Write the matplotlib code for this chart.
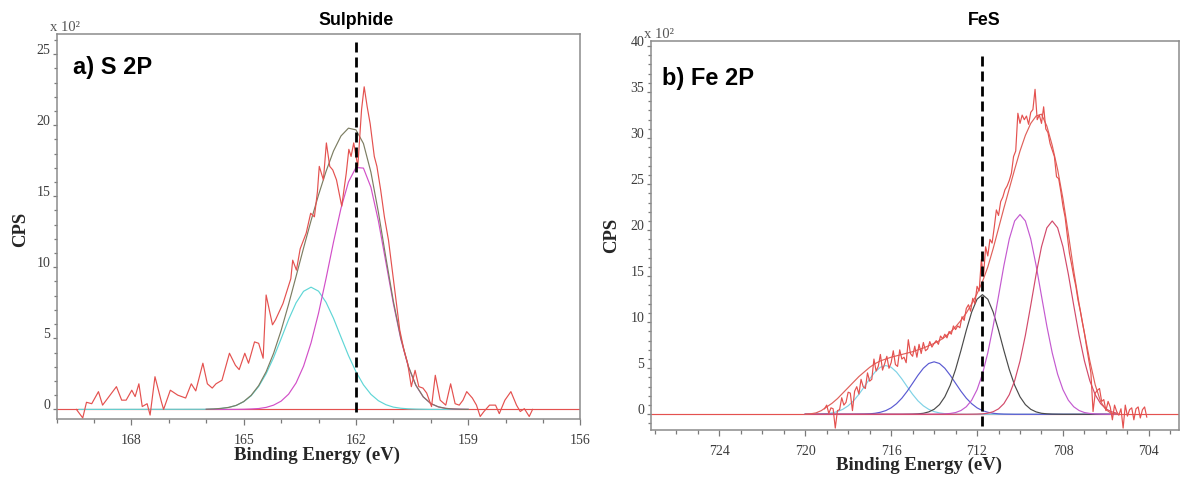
import matplotlib
matplotlib.use("Agg")
import numpy as np
import matplotlib.pyplot as plt
from matplotlib.ticker import MultipleLocator

plt.rcParams['font.family'] = ['Liberation Serif', 'DejaVu Serif']

# ---------------- a) S 2P data ----------------
s2p_raw_x = [169.47, 169.3, 169.2, 169.06, 168.88, 168.77, 168.4, 168.26, 168.14, 167.99, 167.9, 167.8,
             167.71, 167.58, 167.5, 167.37, 167.2, 167.14, 166.96, 166.76, 166.55, 166.4, 166.28, 166.09,
             165.97, 165.84, 165.74, 165.58, 165.38, 165.22, 165.12, 164.97, 164.87, 164.71, 164.6, 164.48,
             164.4, 164.23, 164.15, 163.95, 163.74, 163.69, 163.59, 163.49, 163.33, 163.21, 163.11, 163.03,
             162.98, 162.87, 162.79, 162.7, 162.62, 162.52, 162.38, 162.26, 162.19, 162.13, 162.06, 161.95,
             161.85, 161.78, 161.7, 161.62, 161.51, 161.44, 161.34, 161.24, 161.13, 161.03, 160.93, 160.83,
             160.72, 160.62, 160.52, 160.42, 160.32, 160.21, 160.11, 159.98, 159.88, 159.75, 159.6, 159.47,
             159.35, 159.24, 159.14, 159.04, 158.89, 158.78, 158.68, 158.58, 158.43, 158.27, 158.17, 158.02,
             157.86, 157.71, 157.61, 157.5, 157.37, 157.28]
s2p_raw_y = [0.0, -0.6, 0.5, 0.4, 1.25, 0.3, 1.6, 0.65, 0.65, 1.35, 0.9, 1.8,
             0.2, 0.4, -0.4, 2.3, 0.55, 0.0, 1.35, 1.0, 0.8, 1.8, 1.3, 3.25,
             1.8, 1.5, 1.8, 2.05, 3.95, 3.1, 2.8, 3.95, 3.25, 4.75, 4.65, 3.6,
             8.05, 5.95, 6.3, 7.45, 9.2, 10.5, 9.8, 11.3, 12.4, 13.8, 13.55, 15.3,
             17.1, 16.15, 18.75, 17.1, 16.85, 16.15, 14.3, 16.6, 18.3, 17.8, 18.75, 17.1,
             21.1, 22.7, 21.3, 20.1, 17.8, 17.1, 15.45, 13.55, 11.9, 9.8, 7.7, 5.6,
             4.2, 3.25, 1.6, 2.75, 1.6, 1.5, 1.15, 0.2, 2.4, 0.65, 0.3, 1.8,
             0.4, 0.3, 0.65, 1.25, 0.8, 0.3, -0.5, -0.15, 0.3, 0.3, -0.3, 0.65,
             1.25, 0.3, -0.15, 0.05, -0.5, 0.0]

# fitted curves sampled every 0.2 eV from 166.0 down to 159.0
s2p_fit_x = np.linspace(166.0, 159.0, 36)
s2p_cyan = [0.01, 0.03, 0.07, 0.14, 0.28, 0.54, 0.96, 1.61, 2.51, 3.65, 4.97, 6.32, 7.50, 8.31, 8.60,
            8.32, 7.54, 6.41, 5.09, 3.79, 2.65, 1.73, 1.06, 0.61, 0.33, 0.16, 0.08, 0.04, 0.02, 0.01,
            0.0, 0.0, 0.0, 0.0, 0.0, 0.0]
s2p_cyan_start = 169.4
s2p_magenta = [0.0, 0.0, 0.0, 0.0, 0.0, 0.01, 0.03, 0.06, 0.14, 0.30, 0.58, 1.07, 1.86, 3.04, 4.68,
               6.77, 9.20, 11.77, 14.15, 16.00, 17.02, 16.98, 15.63, 13.26, 10.35, 7.44, 4.93, 3.00,
               1.69, 0.87, 0.41, 0.18, 0.07, 0.03, 0.01, 0.0]
s2p_envelope = [0.01, 0.03, 0.07, 0.14, 0.28, 0.55, 0.99, 1.67, 2.65, 3.95, 5.55, 7.39, 9.36, 11.35,
                13.28, 15.09, 16.74, 18.18, 19.24, 19.79, 19.67, 18.71, 16.69, 13.87, 10.68, 7.60, 5.01,
                3.04, 1.71, 0.88, 0.41, 0.18, 0.07, 0.03, 0.01, 0.0]
s2p_marker_x = 162.0
s2p_marker_y = (-0.2, 26.0)

# ---------------- b) Fe 2P data ----------------
fe_raw_start = 719.1
fe_raw_y = [0.6, 1.0, 0.1, 0.7, 0.6, -1.5, 0.4, 0.5, 1.8, 1.0,
            1.3, 2.4, 2.3, 0.4, 2.5, 3.0, 2.2, 3.8, 3.0, 2.8,
            4.5, 3.6, 3.8, 6.0, 4.7, 5.2, 6.5, 4.8, 5.5, 6.3,
            5.0, 5.6, 6.9, 5.4, 5.2, 7.0, 6.0, 6.2, 5.6, 8.1,
            6.6, 6.3, 7.4, 6.2, 7.6, 6.6, 7.8, 6.9, 7.1, 7.9,
            7.3, 7.7, 8.0, 7.6, 8.5, 8.2, 8.7, 8.3, 9.0, 8.7,
            9.6, 9.2, 9.6, 9.4, 10.6, 10.2, 11.5, 11.9, 11.2, 12.6,
            12.0, 13.9, 13.4, 16.8, 15.0, 18.2, 17.2, 19.0, 18.6, 20.3,
            22.2, 21.6, 23.1, 23.6, 24.4, 24.8, 25.4, 26.2, 28.0, 28.6,
            32.7, 31.6, 32.5, 32.0, 32.4, 31.5, 32.8, 33.1, 35.3, 32.0,
            32.5, 31.6, 33.4, 31.0, 30.6, 29.4, 28.7, 28.0, 25.8, 25.6,
            24.2, 22.6, 21.4, 19.4, 17.5, 16.3, 15.0, 13.9, 12.4, 11.3,
            10.0, 8.8, 7.3, 5.9, 4.5, 0.3, 2.3, 2.6, 2.8, 1.4,
            1.6, 0.4, 1.4, 0.8, -0.6, 1.0, 0.3, -0.1, 0.6, -1.5,
            1.0, -0.2, 0.5, 0.7, -0.6, 0.6, 0.8, -0.4, 0.5, 0.8,
            -0.3]
fe_raw_step = 0.1

# fitted curves sampled every 0.25 eV from 720.0 down to 705.5
fe_fit_x = np.linspace(720.0, 705.5, 59)
fe_cyan = [0.0, 0.01, 0.01, 0.03, 0.07, 0.15, 0.29, 0.54, 0.92, 1.46, 2.17, 2.99, 3.84, 4.59, 5.11,
           5.30, 5.11, 4.59, 3.84, 2.99, 2.17, 1.46, 0.92, 0.54, 0.29, 0.15, 0.07, 0.03, 0.01, 0.01]
fe_cyan += [0.0] * 29
fe_blue = [0.0] * 10 + [0.01, 0.02, 0.05, 0.11, 0.22, 0.40, 0.70, 1.15, 1.75, 2.51, 3.37, 4.24, 5.00,
                        5.52, 5.70, 5.52, 5.00, 4.24, 3.37, 2.51, 1.75, 1.15, 0.70, 0.40, 0.22, 0.11,
                        0.05, 0.02, 0.01] + [0.0] * 20
fe_black = [0.0] * 19 + [0.01, 0.02, 0.05, 0.11, 0.26, 0.54, 1.05, 1.90, 3.16, 4.87, 6.93, 9.13, 11.11,
                         12.50, 13.00, 12.50, 11.11, 9.13, 6.93, 4.87, 3.16, 1.90, 1.05, 0.54, 0.26,
                         0.11, 0.05, 0.02, 0.01] + [0.0] * 11
fe_magenta = [0.0] * 24 + [0.01, 0.02, 0.04, 0.09, 0.19, 0.41, 0.82, 1.53, 2.67, 4.36, 6.67, 9.57, 12.85,
                           16.16, 19.04, 21.00, 21.70, 21.00, 19.04, 16.16, 12.85, 9.57, 6.67, 4.36,
                           2.67, 1.53, 0.82, 0.41, 0.19, 0.09, 0.04, 0.02, 0.01, 0.0, 0.0]
fe_red = [0.0] * 31 + [0.01, 0.02, 0.05, 0.12, 0.28, 0.59, 1.16, 2.13, 3.64, 5.79, 8.58, 11.84, 15.22,
                       18.20, 20.26, 21.00, 20.26, 18.20, 15.22, 11.84, 8.58, 5.79, 3.64, 2.13, 1.16,
                       0.59, 0.28, 0.12]
fe_envelope = [0.0, 0.05, 0.15, 0.4, 0.8, 1.2, 1.7, 2.3, 2.9, 3.5, 4.1, 4.6, 5.1, 5.5, 5.8, 6.0, 6.2,
               6.35, 6.5, 6.65, 6.8, 7.0, 7.2, 7.45, 7.7, 8.0, 8.4, 8.9, 9.5, 10.2, 11.0, 12.0, 13.1,
               14.4, 16.0, 18.0, 20.2, 22.4, 24.5, 26.6, 28.6, 30.3, 31.6, 32.4, 32.6, 31.3, 29.2, 26.6,
               23.4, 19.6, 15.6, 12.0, 8.8, 5.8, 3.2, 1.4, 0.5, 0.1, 0.0]
fe_marker_x = 711.75
fe_marker_y = (-1.3, 39.4)

# ---------------- figure ----------------
fig = plt.figure(figsize=(11.83, 4.82), dpi=100)
axL = fig.add_axes([0.0478, 0.130, 0.4429, 0.799])
axR = fig.add_axes([0.5499, 0.108, 0.4467, 0.806])

RAW = '#e4514f'
LW = 0.85
DASH = (0, (3.6, 1.8))
SANS = ['Liberation Sans', 'DejaVu Sans']


def style(ax, xlim, ylim, xmajor):
    ax.set_xlim(*xlim)
    ax.set_ylim(*ylim)
    ax.xaxis.set_major_locator(MultipleLocator(xmajor))
    ax.xaxis.set_minor_locator(MultipleLocator(1))
    ax.set_yticks(np.arange(0, ylim[1], 5))
    ax.yaxis.set_minor_locator(MultipleLocator(1))
    for sp in ax.spines.values():
        sp.set_color('#8c8c8c')
        sp.set_linewidth(1.1)
    ax.tick_params(axis='both', which='both', direction='out', color='#7a7a7a',
                   labelcolor='#3c3c3c', labelsize=10, width=0.9)
    ax.tick_params(axis='x', which='major', length=4, pad=6.5)
    ax.tick_params(axis='x', which='minor', length=3)
    ax.tick_params(axis='y', which='major', length=3, pad=1.5)
    ax.tick_params(axis='y', which='minor', length=2.5)
    for lab in ax.get_yticklabels():
        lab.set_va('baseline')
    ax.set_xlabel('Binding Energy (eV)', fontsize=13.5, fontweight='bold', color='#262626')
    ax.set_ylabel('CPS', fontsize=13.5, fontweight='bold', color='#262626')
    ax.text(-0.012, 1.0, 'x 10²', transform=ax.transAxes, ha='left', va='bottom',
            fontsize=10.5, color='#555555')
    ax.axhline(0, color=RAW, lw=LW, zorder=1)


# ---- left panel ----
style(axL, (170, 156), (-0.7, 26.4), 3)
axL.plot([s2p_cyan_start] + list(s2p_fit_x), [0.0] + s2p_cyan, color='#5fd6d6', lw=LW, zorder=2)
axL.plot(s2p_fit_x, s2p_magenta, color='#d24fc8', lw=LW, zorder=2)
axL.plot(s2p_fit_x, s2p_envelope, color='#7c7d62', lw=LW, zorder=3)
axL.plot(s2p_raw_x, s2p_raw_y, color=RAW, lw=LW, zorder=4)
axL.vlines(s2p_marker_x, *s2p_marker_y, colors='black', lw=2.0, linestyles=DASH, zorder=5)
axL.xaxis.set_label_coords(0.498, -0.072)
axL.yaxis.set_label_coords(-0.053, 0.494)
axL.text(0.031, 0.897, 'a) S 2P', transform=axL.transAxes, fontsize=17, fontweight='bold',
         family=SANS, ha='left', va='baseline', color='black')
axL.annotate('Sulphide', xy=(s2p_marker_x, 1.035), xycoords=('data', 'axes fraction'),
             ha='center', va='center', fontsize=12.8, fontweight='bold',
             family=SANS, annotation_clip=False)

# ---- right panel ----
style(axR, (727.2, 702.6), (-1.7, 40.5), 4)
fe_raw_x = fe_raw_start - fe_raw_step * np.arange(len(fe_raw_y))
axR.plot(fe_fit_x, fe_cyan, color='#7fd2e6', lw=LW, zorder=2)
axR.plot(fe_fit_x, fe_blue, color='#5a5ad2', lw=LW, zorder=2)
axR.plot(fe_fit_x, fe_black, color='#4a4a4a', lw=LW, zorder=2)
axR.plot(fe_fit_x, fe_magenta, color='#c45ad0', lw=LW, zorder=2)
axR.plot(fe_fit_x, fe_red, color='#d24a6a', lw=LW, zorder=2)
axR.plot(fe_fit_x, fe_envelope, color='#e0605a', lw=LW, zorder=3)
axR.plot(fe_raw_x, fe_raw_y, color=RAW, lw=LW, zorder=4)
axR.vlines(fe_marker_x, *fe_marker_y, colors='black', lw=2.0, linestyles=DASH, zorder=5)
axR.xaxis.set_label_coords(0.508, -0.068)
axR.yaxis.set_label_coords(-0.058, 0.50)
axR.text(0.022, 0.889, 'b) Fe 2P', transform=axR.transAxes, fontsize=17, fontweight='bold',
         family=SANS, ha='left', va='baseline', color='black')
axR.annotate('FeS', xy=(711.65, 1.054), xycoords=('data', 'axes fraction'),
             ha='center', va='center', fontsize=12.8, fontweight='bold',
             family=SANS, annotation_clip=False)

fig.savefig('out.png', dpi=100)
